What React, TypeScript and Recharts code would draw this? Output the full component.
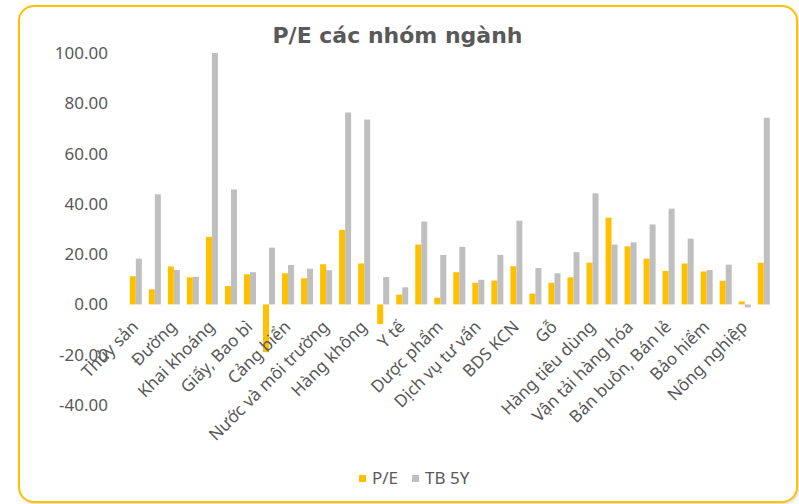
import React from "react";
import { BarChart, Bar, XAxis, YAxis, Legend } from "recharts";

// Category names (odd-position ones are hidden by the axis label skipping, as in the reference)
const categories = [
  "Thủy sản", "Cao su", "Đường", "Dệt may", "Khai khoáng", "Nhựa", "Giấy, Bao bì", "Vận tải biển",
  "Cảng biển", "Điện", "Nước và môi trường", "Xây dựng", "Hàng không", "Bất động sản", "Y tế", "Thép",
  "Dược phẩm", "Ngân hàng", "Dịch vụ tư vấn", "Chứng khoán", "BDS KCN", "Phân bón", "Gỗ", "Hóa chất",
  "Hàng tiêu dùng", "Công nghệ", "Vận tải hàng hóa", "Dầu khí", "Bán buôn, Bán lẻ", "Thực phẩm",
  "Bảo hiểm", "Vật liệu xây dựng", "Nông nghiệp", "Ô tô",
];
const peValues = [
  11.2, 6.0, 15.1, 10.8, 26.9, 7.3, 12.0, -19.0, 12.4, 10.4, 16.0, 29.7, 16.3, -7.8, 3.9, 23.8, 2.7,
  12.8, 8.6, 9.5, 15.2, 4.3, 8.6, 10.8, 16.6, 34.5, 23.1, 18.2, 13.3, 16.3, 13.1, 9.4, 1.2, 16.6,
];
const tb5yValues = [
  18.2, 43.8, 13.7, 11.0, 100.0, 45.7, 12.8, 22.6, 15.7, 14.2, 13.6, 76.3, 73.6, 10.9, 6.8, 33.0, 19.7,
  22.9, 9.8, 19.7, 33.3, 14.5, 12.4, 20.8, 44.2, 23.8, 24.7, 31.8, 38.1, 26.2, 13.7, 15.8, -1.2, 74.2,
];
const yTicks = [-40, -20, 0, 20, 40, 60, 80, 100];
const seriesNames = { pe: "P/E", tb: "TB 5Y" };
const titleText = "P/E các nhóm ngành";

const data = categories.map((name, i) => ({ name, pe: peValues[i], tb: tb5yValues[i] }));

const W = 799;
const H = 504;
const Y_MIN = -40;
const Y_MAX = 100;
const MARGIN = { top: 53, right: 26, bottom: 0, left: 26 };
const X_AXIS_H = 99;
const PLOT_H = H - MARGIN.top - MARGIN.bottom - X_AXIS_H;
const ZERO_Y = MARGIN.top + (PLOT_H * (Y_MAX - 0)) / (Y_MAX - Y_MIN);

const FONT = '"Noto Sans", sans-serif';
const TEXT = "#595959";
const YELLOW = "#FFC000";
const GRAY = "#BFBFBF";

const CategoryTick = (props: any) => {
  const { x, payload } = props;
  return (
    <g transform={`translate(${x + 4},${ZERO_Y + 23.5})`}>
      <text
        textAnchor="end"
        transform="rotate(-45)"
        fontFamily={FONT}
        fontSize={17}
        fill={TEXT}
      >
        {payload.value}
      </text>
    </g>
  );
};

const LegendContent = (props: any) => {
  const { payload } = props;
  return (
    <div
      style={{
        display: "flex",
        alignItems: "center",
        fontFamily: FONT,
        fontSize: 17,
        lineHeight: "20px",
        color: TEXT,
        whiteSpace: "nowrap",
      }}
    >
      {(payload || []).map((p: any, i: number) => (
        <span key={i} style={{ display: "flex", alignItems: "center", marginRight: 14 }}>
          <span
            style={{ display: "inline-block", width: 7, height: 7, background: p.color, marginRight: 6 }}
          />
          {p.value}
        </span>
      ))}
    </div>
  );
};

export default function App() {
  return (
    <div style={{ position: "absolute", left: 0, top: 0, width: W, height: H, background: "#fff" }}>
      <div
        style={{
          position: "absolute",
          left: 18,
          top: 5,
          width: 780,
          height: 498,
          boxSizing: "border-box",
          border: `2.5px solid ${YELLOW}`,
          borderRadius: 16,
          boxShadow: "1px 1px 3px rgba(0,0,0,0.18)",
        }}
      />
      <div
        style={{
          position: "absolute",
          left: -2,
          top: 25,
          width: W,
          textAlign: "center",
          fontFamily: '"DejaVu Sans", sans-serif',
          fontWeight: "bold",
          fontSize: 22,
          lineHeight: "22px",
          color: TEXT,
        }}
      >
        {titleText}
      </div>
      <div style={{ position: "absolute", left: 0, top: 0 }}>
        <BarChart
          width={W}
          height={H}
          data={data}
          margin={MARGIN}
          barCategoryGap="20%"
          barGap={0}
        >
          <XAxis
            dataKey="name"
            interval={1}
            height={X_AXIS_H}
            axisLine={false}
            tickLine={false}
            tick={<CategoryTick />}
          />
          <YAxis
            domain={[Y_MIN, Y_MAX]}
            ticks={yTicks}
            width={100}
            axisLine={false}
            tickLine={false}
            tickSize={0}
            tickMargin={18}
            allowDataOverflow
            tickFormatter={(v: number) => v.toFixed(2)}
            tick={{ fontFamily: FONT, fontSize: 17, fill: TEXT }}
          />
          <Legend
            verticalAlign="middle"
            align="center"
            layout="horizontal"
            wrapperStyle={{ left: 359, top: 468, width: "auto" }}
            content={<LegendContent />}
          />
          <Bar dataKey="pe" name={seriesNames.pe} fill={YELLOW} isAnimationActive={false} />
          <Bar dataKey="tb" name={seriesNames.tb} fill={GRAY} isAnimationActive={false} />
        </BarChart>
      </div>
    </div>
  );
}
